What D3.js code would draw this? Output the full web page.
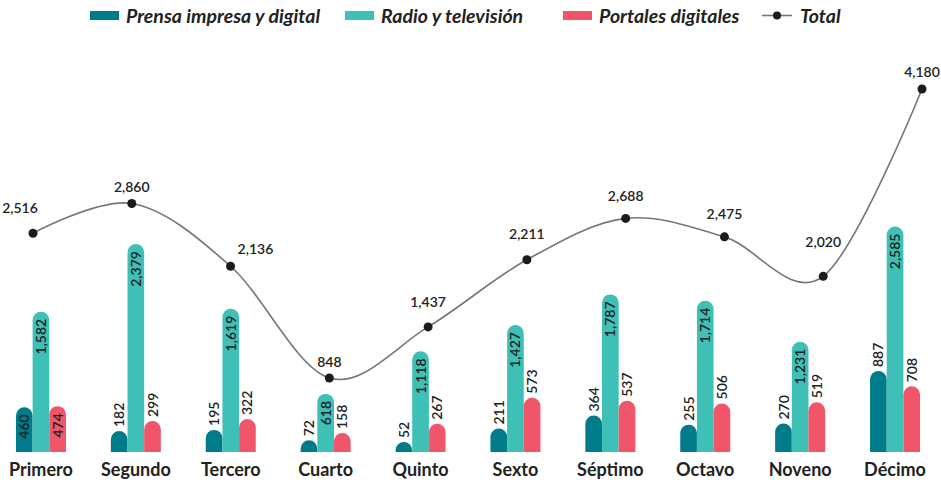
<!DOCTYPE html>
<html>
<head>
<meta charset="utf-8">
<script src="https://cdn.jsdelivr.net/npm/d3@7"></script>
<style>
  body { margin: 0; background: #fff; }
  svg text { font-family: Lato, "Noto Sans", sans-serif; }
</style>
</head>
<body>
<svg id="chart" width="941" height="480"></svg>
<script>
// data
const categories = ["Primero", "Segundo", "Tercero", "Cuarto", "Quinto", "Sexto", "Séptimo", "Octavo", "Noveno", "Décimo"];
const prensa = [460, 182, 195, 72, 52, 211, 364, 255, 270, 887];
const radio = [1582, 2379, 1619, 618, 1118, 1427, 1787, 1714, 1231, 2585];
const portales = [474, 299, 322, 158, 267, 573, 537, 506, 519, 708];
const total = [2516, 2860, 2136, 848, 1437, 2211, 2688, 2475, 2020, 4180];
const seriesNames = ["Prensa impresa y digital", "Radio y televisión", "Portales digitales"];

const colors = ["#007b89", "#3ec0b7", "#f05569"];
const fmt = d3.format(",");

const svg = d3.select("#chart");
const baseY = 452;

// scales
const x = d3.scaleBand().domain(categories).range([-6.5, 942.5]).paddingInner(0).paddingOuter(0);
const groupW = 50;
const xSub = d3.scaleBand().domain([0, 1, 2]).range([-groupW / 2, groupW / 2]);
const yBar = d3.scaleLinear().domain([0, 3000]).range([446.5, 191.2]);
const xLine = d3.scalePoint().domain(categories).range([33, 922]);
const yLine = d3.scaleLinear().domain([0, 4180]).range([451.5, 89]);

const series = [prensa, radio, portales];

function barPath(x0, w, top) {
    const r = w / 2;
    return `M${x0},${baseY}V${top + r}A${r},${r} 0 0 1 ${x0 + w},${top + r}V${baseY}Z`;
}

// bars
series.forEach((vals, si) => {
    const g = svg.append("g");
    g.selectAll("path")
        .data(vals)
        .enter()
        .append("path")
        .attr("d", (d, i) => barPath(x(categories[i]) + x.bandwidth() / 2 + xSub(si), xSub.bandwidth(), yBar(d)))
        .attr("fill", colors[si]);

    g.selectAll("text")
        .data(vals)
        .enter()
        .append("text")
        .attr("transform", (d, i) => {
            const cx = x(categories[i]) + x.bandwidth() / 2 + xSub(si) + xSub.bandwidth() / 2;
            const inside = si === 1 || i === 0;
            const ty = inside ? yBar(d) + 7 : yBar(d) - 4;
            return `translate(${cx},${ty}) rotate(-90)`;
        })
        .attr("text-anchor", (d, i) => (si === 1 || i === 0) ? "end" : "start")
        .attr("dy", "0.36em")
        .attr("font-size", 14)
        .attr("font-weight", 600)
        .attr("fill", "#222")
        .text(d => fmt(d));
});

// total line
const line = d3.line()
    .x((d, i) => xLine(categories[i]))
    .y(d => yLine(d))
    .curve(d3.curveCardinal);

svg.append("path")
    .datum(total)
    .attr("d", line)
    .attr("fill", "none")
    .attr("stroke", "#767676")
    .attr("stroke-width", 1.6);

svg.append("g").selectAll("circle")
    .data(total)
    .enter()
    .append("circle")
    .attr("cx", (d, i) => xLine(categories[i]))
    .attr("cy", d => yLine(d))
    .attr("r", 4.5)
    .attr("fill", "#1b1b1b");

// label nudges for the total line (layout only)
const nudge = [[-13, -20], [0, -11], [7, -12], [0, -11], [0, -20], [0, -21], [0, -17], [0, -18], [0, -29], [0, -12]];

svg.append("g").selectAll("text")
    .data(total)
    .enter()
    .append("text")
    .attr("x", (d, i) => xLine(categories[i]) + nudge[i][0])
    .attr("y", (d, i) => yLine(d) + nudge[i][1])
    .attr("text-anchor", (d, i) => nudge[i][0] > 0 ? "start" : "middle")
    .attr("font-size", 14)
    .attr("font-weight", 600)
    .attr("fill", "#222")
    .text(d => fmt(d));

// category labels
svg.append("g").selectAll("text")
    .data(categories)
    .enter()
    .append("text")
    .attr("x", d => x(d) + x.bandwidth() / 2)
    .attr("y", 476)
    .attr("text-anchor", "middle")
    .attr("font-size", 18)
    .attr("font-weight", 700)
    .attr("fill", "#222")
    .text(d => d);

// legend
const legendX = [90, 345, 563];
const legend = svg.append("g");
seriesNames.forEach((name, i) => {
    legend.append("rect")
        .attr("x", legendX[i]).attr("y", 11)
        .attr("width", 29).attr("height", 9)
        .attr("fill", colors[i]);
    legend.append("text")
        .attr("x", legendX[i] + 36).attr("y", 23)
        .attr("font-size", 19.5)
        .attr("font-weight", 700)
        .attr("font-style", "italic")
        .attr("fill", "#222")
        .text(name);
});
legend.append("line")
    .attr("x1", 762).attr("x2", 792).attr("y1", 15.5).attr("y2", 15.5)
    .attr("stroke", "#767676").attr("stroke-width", 1.6);
legend.append("circle")
    .attr("cx", 777).attr("cy", 15.5).attr("r", 4)
    .attr("fill", "#1b1b1b");
legend.append("text")
    .attr("x", 800).attr("y", 23)
    .attr("font-size", 19.5)
    .attr("font-weight", 700)
    .attr("font-style", "italic")
    .attr("fill", "#222")
    .text("Total");
</script>
</body>
</html>
